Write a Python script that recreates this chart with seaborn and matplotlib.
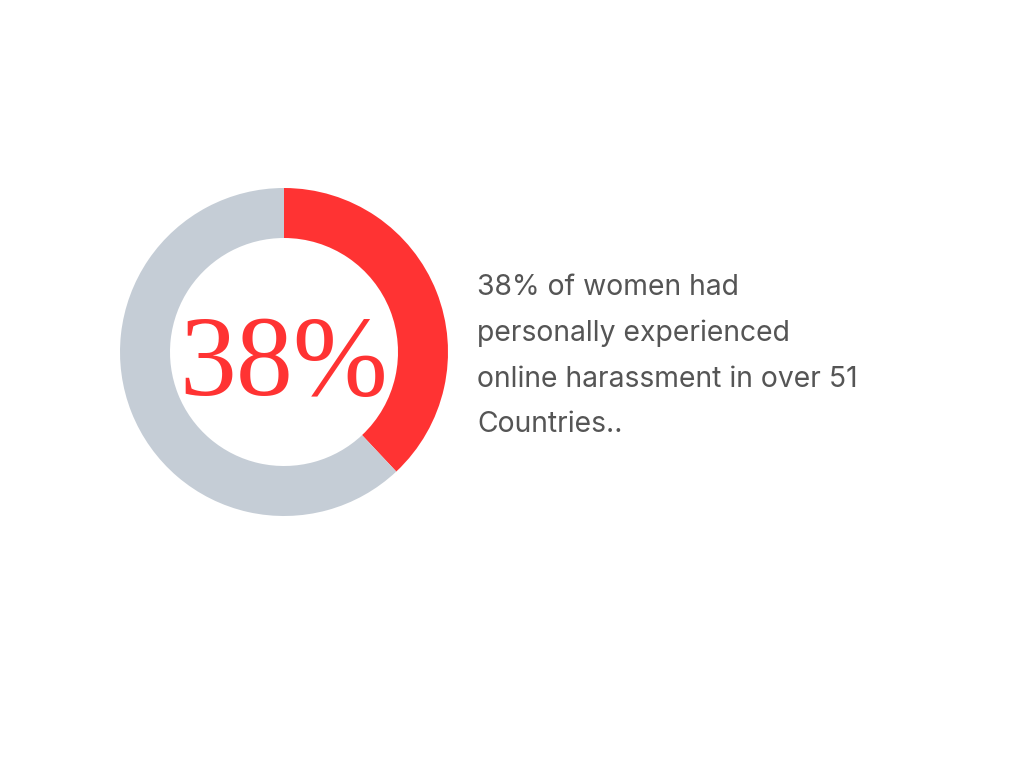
import matplotlib
matplotlib.use("Agg")
import matplotlib.pyplot as plt
import seaborn as sns

sns.set_theme(style="white")

labels = ["Experienced harassment", "Other"]
values = [38, 62]
colors = ["#FF3333", "#C5CDD6"]
center_label = "38%"
description = "38% of women had\npersonally experienced\nonline harassment in over 51\nCountries.."

fig = plt.figure(figsize=(10.24, 7.68), dpi=100)
ax = fig.add_axes([0, 0, 1, 1])
ax.pie(values, colors=colors, center=(284, 416), radius=164, startangle=90,
       counterclock=False, wedgeprops=dict(width=50, linewidth=0), frame=True)
ax.set_xlim(0, 1024)
ax.set_ylim(0, 768)
ax.set_aspect("equal")
ax.axis("off")

ax.text(284, 401, center_label, ha="center", va="center", color="#FF3333",
        fontsize=82, family=["Liberation Serif", "DejaVu Serif"])
ax.text(477, 412, description, ha="left", va="center", color="#555555",
        fontsize=20.4, family="Inter", linespacing=1.88)

fig.savefig("out.png", dpi=100)
